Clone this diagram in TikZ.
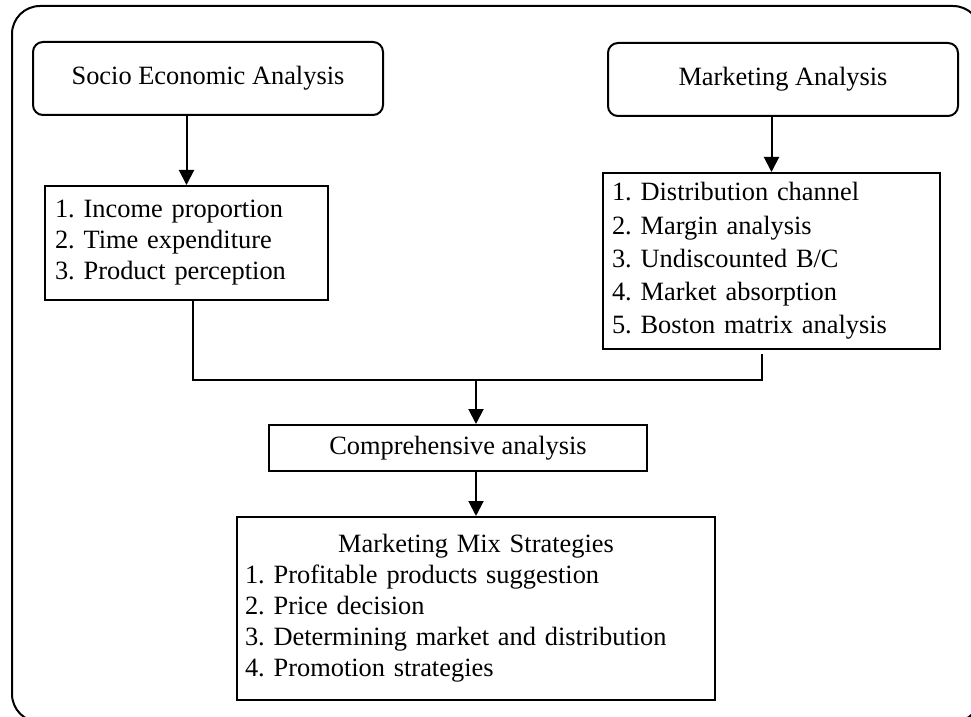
\documentclass[tikz,border=0pt]{standalone}
\usepackage{fontspec}
\setmainfont{Liberation Serif}
\usetikzlibrary{arrows.meta,positioning,calc}
\frenchspacing
\definecolor{ink}{HTML}{000000}
\tikzset{
  base/.style={align=center, inner sep=0pt, font=\fontsize{13.2}{15.5}\selectfont, text=ink, draw=ink, line width=1pt},
  head/.style={base, rounded corners=5pt, minimum width=175pt, minimum height=36.5pt},
  items/.style={base, align=left, inner xsep=5pt},
  arr/.style={-{Triangle[length=7.5pt,width=7.5pt]}, line width=1pt, draw=ink},
  link/.style={line width=1pt, draw=ink},
  frame/.style={line width=1pt, draw=ink, rounded corners=14pt},
}
\begin{document}
\begin{tikzpicture}[x=0.5pt, y=-0.5pt]
    \useasboundingbox (0,0) rectangle (971,717);
    \draw[frame] (12,6) rectangle (981,722);
    \node[head] (socio) at (208,78.5) {Socio Economic Analysis};
    \node[head] (mkt) at (783,79.5) {Marketing Analysis};
    \node[items, text width=131.5pt, minimum height=57pt] (inc) at (186.5,243)
      {1. Income proportion\\2. Time expenditure\\3. Product perception};
    \node[items, text width=159.5pt, inner xsep=4.5pt, minimum height=88pt, font=\fontsize{13.2}{16.6}\selectfont] (dist) at (771.5,261)
      {1. Distribution channel\\2. Margin analysis\\3. Undiscounted B/C\\4. Market absorption\\5. Boston matrix analysis};
    \node[base, minimum width=189pt, minimum height=23pt] (comp) at (458,448) {Comprehensive analysis};
    \node[items, text width=231pt, inner xsep=4pt, minimum height=91.5pt] (mix) at (476,608.5)
      {\makebox[\linewidth]{Marketing Mix Strategies}\\1. Profitable products suggestion\\2. Price decision\\3. Determining market and distribution\\4. Promotion strategies};
    \coordinate (lj) at (193,380);
    \coordinate (rj) at (762,380);
    \coordinate (rt) at (762,354);
    \coordinate (jn) at (476,380);
    \draw[arr] (socio.south -| inc.north) -- (inc.north);
    \draw[arr] (mkt.south -| dist.north) -- (dist.north);
    \draw[link] (inc.south -| lj) -- (lj) -- (rj) -- (rt);
    \draw[arr] (jn) -- (comp.north -| jn);
    \draw[arr] (comp.south -| mix.north) -- (mix.north);
  \end{tikzpicture}
\end{document}
